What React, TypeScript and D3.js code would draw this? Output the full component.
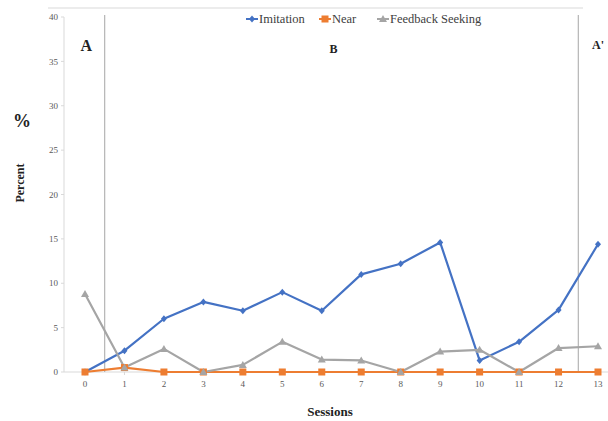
import React from "react";
import * as d3 from "d3";

const sessions = [0, 1, 2, 3, 4, 5, 6, 7, 8, 9, 10, 11, 12, 13];
const imitation = [0, 2.4, 6.0, 7.9, 6.9, 9.0, 6.9, 11.0, 12.2, 14.6, 1.3, 3.4, 7.0, 14.4];
const near = [0, 0.5, 0, 0, 0, 0, 0, 0, 0, 0, 0, 0, 0, 0];
const feedback = [8.8, 0.5, 2.6, 0, 0.8, 3.4, 1.4, 1.3, 0, 2.3, 2.5, 0, 2.7, 2.9];
const yTicks = [0, 5, 10, 15, 20, 25, 30, 35, 40];
const phaseLines = [0.5, 12.5];
const phaseLabels = [
  { label: "A", x: 0.03, y: 36.2, size: 16 },
  { label: "B", x: 6.3, y: 36.0, size: 12 },
  { label: "A'", x: 13.0, y: 36.4, size: 12 },
];
const seriesNames = ["Imitation", "Near", "Feedback Seeking"];
const colors = ["#4472C4", "#ED7D31", "#A5A5A5"];

export default function App() {
  const W = 608, H = 421;
  const x = d3.scaleLinear().domain([0, 13]).range([85, 598]);
  const y = d3.scaleLinear().domain([0, 40]).range([372, 17]);
  const line = d3
    .line<number>()
    .x((_, i) => x(sessions[i]))
    .y((d) => y(d));
  const series = [imitation, near, feedback];
  const font = "Liberation Serif, Times New Roman, serif";

  const marker = (k: number, cx: number, cy: number, key: string) => {
    const c = colors[k];
    if (k === 0)
      return (
        <path key={key} d={`M${cx},${cy - 3.5}L${cx + 3},${cy}L${cx},${cy + 3.5}L${cx - 3},${cy}Z`} fill={c} />
      );
    if (k === 1) return <rect key={key} x={cx - 3.5} y={cy - 3.5} width={7} height={7} fill={c} />;
    return <path key={key} d={`M${cx},${cy - 4}L${cx + 4},${cy + 3}L${cx - 4},${cy + 3}Z`} fill={c} />;
  };

  const legendX = [246, 319, 377];

  return (
    <svg width={W} height={H} style={{ position: "absolute", left: 0, top: 0, background: "#fff", fontFamily: font }}>
      <line x1={48} x2={583} y1={8} y2={8} stroke="#d9d9d9" strokeWidth={1} />
      {/* y axis */}
      <line x1={64} x2={64} y1={y(40)} y2={y(0)} stroke="#d9d9d9" />
      {yTicks.map((t) => (
        <g key={t}>
          <line x1={61} x2={64} y1={y(t)} y2={y(t)} stroke="#d9d9d9" />
          <text x={58} y={y(t)} dy="0.35em" textAnchor="end" fontSize={9} fill="#595959" style={{ fontFamily: font }}>
            {t}
          </text>
        </g>
      ))}
      {/* x axis */}
      <line x1={64} x2={608} y1={y(0)} y2={y(0)} stroke="#d9d9d9" />
      {sessions.map((s) => (
        <g key={s}>
          <line x1={x(s)} x2={x(s)} y1={y(0)} y2={y(0) + 3} stroke="#d9d9d9" />
          <text x={x(s)} y={387} textAnchor="middle" fontSize={9} fill="#595959" style={{ fontFamily: font }}>
            {s}
          </text>
        </g>
      ))}
      {/* phase lines */}
      {phaseLines.map((p) => (
        <line key={p} x1={x(p)} x2={x(p)} y1={y(40) - 2} y2={y(0)} stroke="#a6a6a6" strokeWidth={1} />
      ))}
      {phaseLabels.map((p) => (
        <text
          key={p.label}
          x={x(p.x)}
          y={y(p.y)}
          textAnchor="middle"
          fontSize={p.size}
          fontWeight="bold"
          fill="#222"
          style={{ fontFamily: font }}
        >
          {p.label}
        </text>
      ))}
      {/* series */}
      {series.map((s, k) => (
        <path key={k} d={line(s) || ""} fill="none" stroke={colors[k]} strokeWidth={2.2} strokeLinejoin="round" />
      ))}
      {series.map((s, k) => s.map((v, i) => marker(k, x(sessions[i]), y(v), `${k}-${i}`)))}
      {/* legend */}
      {seriesNames.map((n, k) => (
        <g key={n}>
          <line x1={legendX[k]} x2={legendX[k] + 12} y1={19} y2={19} stroke={colors[k]} strokeWidth={2} />
          {marker(k, legendX[k] + 6, 19, `lg${k}`)}
          <text x={legendX[k] + 13} y={19} dy="0.35em" fontSize={12.5} fill="#404040" style={{ fontFamily: font }}>
            {n}
          </text>
        </g>
      ))}
      {/* axis titles */}
      <text x={22} y={127} textAnchor="middle" fontSize={18} fontWeight="bold" fill="#222" style={{ fontFamily: font }}>
        %
      </text>
      <text
        transform={`translate(24,183) rotate(-90)`}
        textAnchor="middle"
        fontSize={12}
        fontWeight="bold"
        fill="#222"
        style={{ fontFamily: font }}
      >
        Percent
      </text>
      <text x={330} y={416} textAnchor="middle" fontSize={13} fontWeight="bold" fill="#222" style={{ fontFamily: font }}>
        Sessions
      </text>
    </svg>
  );
}
